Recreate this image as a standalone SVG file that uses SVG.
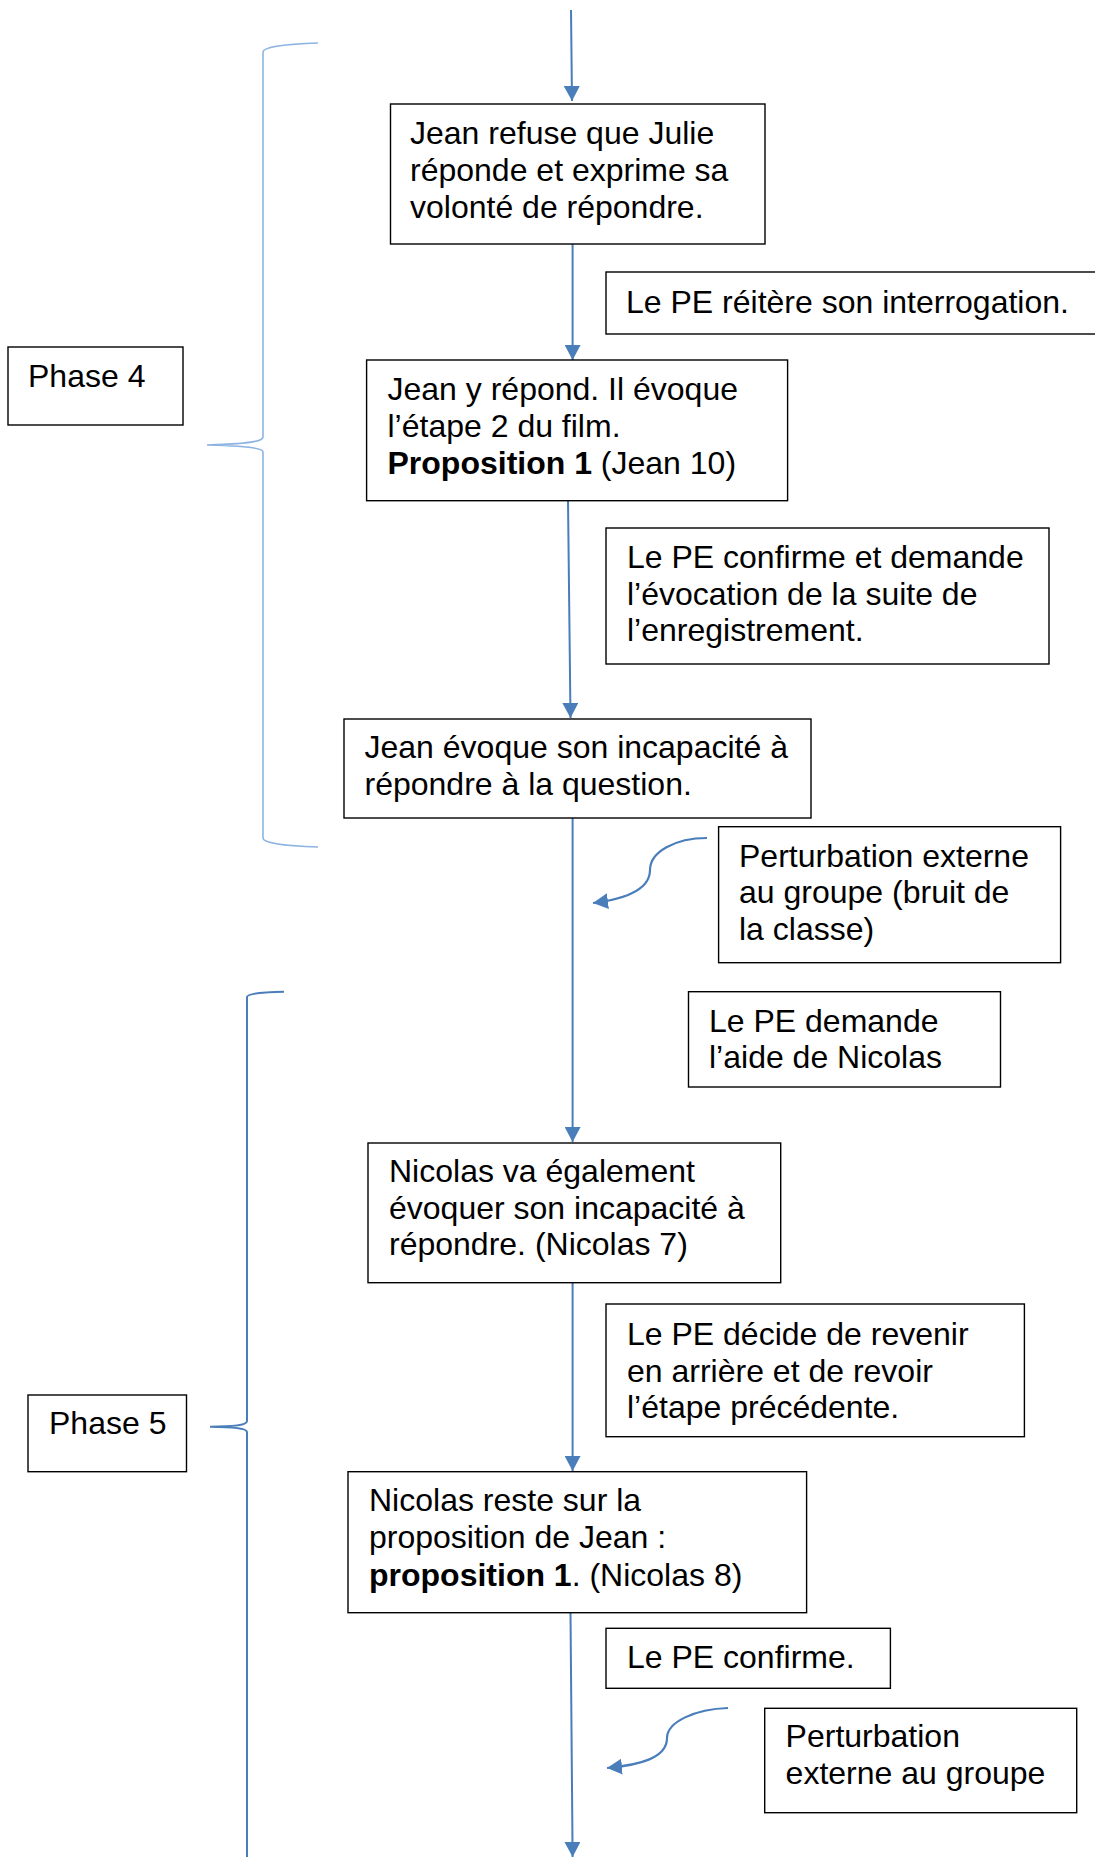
<svg xmlns="http://www.w3.org/2000/svg" width="1095" height="1857" viewBox="0 0 1095 1857">
<style>
.box{fill:#fff;stroke:#000;stroke-width:1.4}
.t{font-family:"Liberation Sans",Arial,sans-serif;font-size:32px;fill:#000}
.b{font-weight:bold}
.flow{fill:none;stroke:#4A7EBB;stroke-width:2}
.curl{fill:none;stroke:#4A7EBB;stroke-width:2.2}
.brace4{fill:none;stroke:#8DB4E2;stroke-width:1.6}
.brace5{fill:none;stroke:#4A7EBB;stroke-width:2}
</style>
<defs>
<marker id="ah" markerUnits="userSpaceOnUse" markerWidth="16" markerHeight="16" refX="15" refY="8" orient="auto" viewBox="0 0 16 16">
<path d="M0,0 L15,8 L0,16 z" fill="#4A7EBB"/>
</marker>
</defs>
<rect width="1095" height="1857" fill="#fff"/>

<g id="braces">
<path class="brace4" d="M318,43 C285,44 263,47 263,52 L263,437 C263,442 245,444 207,445 C245,446 263,448 263,452 L263,838 C263,843 285,846 318,847"/>
<path class="brace5" d="M284,991.7 C262,992 247,994 247,997 L247,1421 C247,1425 235,1426.5 210,1426.7 C235,1427 247,1428.5 247,1432 L247,1870"/>
</g>

<g id="connectors">
<line class="flow" x1="571" y1="10" x2="572" y2="101" marker-end="url(#ah)"/>
<line class="flow" x1="572.6" y1="244" x2="572.6" y2="360" marker-end="url(#ah)"/>
<line class="flow" x1="568" y1="500" x2="570.5" y2="718" marker-end="url(#ah)"/>
<line class="flow" x1="572.6" y1="818" x2="572.6" y2="1142" marker-end="url(#ah)"/>
<line class="flow" x1="572.6" y1="1283" x2="572.6" y2="1471" marker-end="url(#ah)"/>
<line class="flow" x1="570.5" y1="1613" x2="572.6" y2="1857" marker-end="url(#ah)"/>
<path class="curl" d="M707,838 C675,838 650,852 650,870 C650,890 625,899 593,903" marker-end="url(#ah)"/>
<path class="curl" d="M728,1708 C695,1709 667,1722 667,1738 C667,1758 640,1765 607,1768" marker-end="url(#ah)"/>
</g>

<g id="n-jean-refuse">
<rect class="box" x="390.5" y="104" width="374.5" height="140"/>
<text class="t" x="410" y="144">Jean refuse que Julie</text>
<text class="t" x="410" y="181">réponde et exprime sa</text>
<text class="t" x="410" y="218">volonté de répondre.</text>
</g>

<g id="n-pe-reitere">
<rect class="box" x="606" y="272" width="520" height="62"/>
<text class="t" x="626" y="313">Le PE réitère son interrogation.</text>
</g>

<g id="n-phase4">
<rect class="box" x="8" y="347" width="175" height="78"/>
<text class="t" x="28" y="387">Phase 4</text>
</g>

<g id="n-jean-repond">
<rect class="box" x="366.6" y="360" width="421" height="140.7"/>
<text class="t" x="387.5" y="400">Jean y répond. Il évoque</text>
<text class="t" x="387.5" y="437">l’étape 2 du film.</text>
<text class="t" x="387.5" y="474"><tspan class="b">Proposition 1</tspan> (Jean 10)</text>
</g>

<g id="n-pe-confirme-demande">
<rect class="box" x="606" y="528" width="443" height="136"/>
<text class="t" x="627" y="568">Le PE confirme et demande</text>
<text class="t" x="627" y="604.5">l’évocation de la suite de</text>
<text class="t" x="627" y="641">l’enregistrement.</text>
</g>

<g id="n-jean-incapacite">
<rect class="box" x="344" y="719" width="467" height="99"/>
<text class="t" x="364.5" y="758">Jean évoque son incapacité à</text>
<text class="t" x="364.5" y="795">répondre à la question.</text>
</g>

<g id="n-perturbation1">
<rect class="box" x="718.6" y="826.7" width="342" height="136"/>
<text class="t" x="739" y="866.7">Perturbation externe</text>
<text class="t" x="739" y="903">au groupe (bruit de</text>
<text class="t" x="739" y="940">la classe)</text>
</g>

<g id="n-pe-aide">
<rect class="box" x="688.5" y="991.7" width="312" height="95.3"/>
<text class="t" x="709" y="1032">Le PE demande</text>
<text class="t" x="709" y="1068">l’aide de Nicolas</text>
</g>

<g id="n-nicolas-incapacite">
<rect class="box" x="368" y="1143" width="412.7" height="139.7"/>
<text class="t" x="389" y="1182">Nicolas va également</text>
<text class="t" x="389" y="1218.5">évoquer son incapacité à</text>
<text class="t" x="389" y="1255">répondre. (Nicolas 7)</text>
</g>

<g id="n-pe-decide">
<rect class="box" x="606" y="1304" width="418.4" height="132.7"/>
<text class="t" x="627" y="1345">Le PE décide de revenir</text>
<text class="t" x="627" y="1382">en arrière et de revoir</text>
<text class="t" x="627" y="1418">l’étape précédente.</text>
</g>

<g id="n-phase5">
<rect class="box" x="28" y="1395" width="158.5" height="76.7"/>
<text class="t" x="49" y="1434">Phase 5</text>
</g>

<g id="n-nicolas-reste">
<rect class="box" x="348" y="1471.7" width="458.6" height="141"/>
<text class="t" x="369" y="1511">Nicolas reste sur la</text>
<text class="t" x="369" y="1548">proposition de Jean :</text>
<text class="t" x="369" y="1586"><tspan class="b">proposition 1</tspan>. (Nicolas 8)</text>
</g>

<g id="n-pe-confirme">
<rect class="box" x="606" y="1628.3" width="284.4" height="60"/>
<text class="t" x="627" y="1668">Le PE confirme.</text>
</g>

<g id="n-perturbation2">
<rect class="box" x="764.7" y="1708.3" width="312" height="104.4"/>
<text class="t" x="785.6" y="1747">Perturbation</text>
<text class="t" x="785.6" y="1784">externe au groupe</text>
</g>
</svg>
